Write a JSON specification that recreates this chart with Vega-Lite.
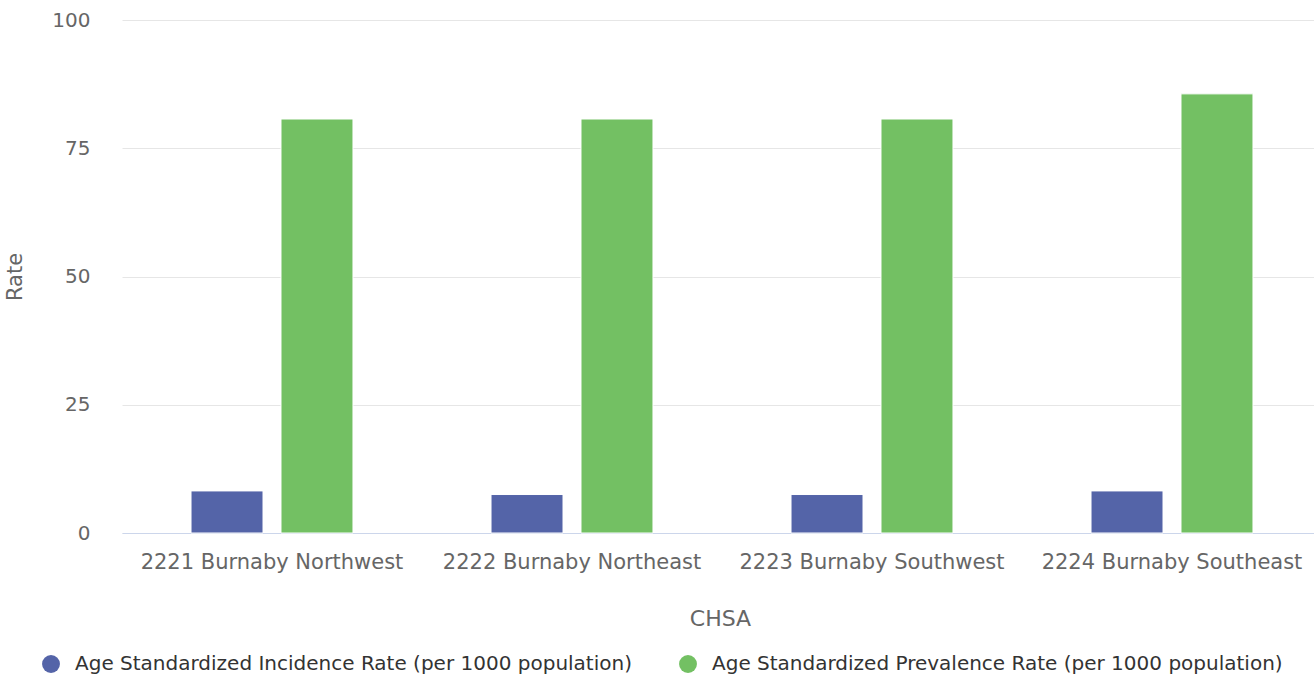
{
  "$schema": "https://vega.github.io/schema/vega-lite/v6.json",
  "width": 1192,
  "height": 513,
  "autosize": "none",
  "padding": {"left": 122, "top": 20, "right": 0, "bottom": 144},
  "background": "#ffffff",
  "config": {
    "font": "DejaVu Sans",
    "view": {"stroke": null}
  },
  "data": {
    "values": [
      {"chsa": "2221 Burnaby Northwest", "measure": "Age Standardized Incidence Rate (per 1000 population)", "rate": 8.2},
      {"chsa": "2221 Burnaby Northwest", "measure": "Age Standardized Prevalence Rate (per 1000 population)", "rate": 80.7},
      {"chsa": "2222 Burnaby Northeast", "measure": "Age Standardized Incidence Rate (per 1000 population)", "rate": 7.5},
      {"chsa": "2222 Burnaby Northeast", "measure": "Age Standardized Prevalence Rate (per 1000 population)", "rate": 80.7},
      {"chsa": "2223 Burnaby Southwest", "measure": "Age Standardized Incidence Rate (per 1000 population)", "rate": 7.5},
      {"chsa": "2223 Burnaby Southwest", "measure": "Age Standardized Prevalence Rate (per 1000 population)", "rate": 80.7},
      {"chsa": "2224 Burnaby Southeast", "measure": "Age Standardized Incidence Rate (per 1000 population)", "rate": 8.2},
      {"chsa": "2224 Burnaby Southeast", "measure": "Age Standardized Prevalence Rate (per 1000 population)", "rate": 85.6}
    ]
  },
  "mark": {"type": "bar", "stroke": "#ffffff", "strokeWidth": 1},
  "encoding": {
    "x": {
      "field": "chsa",
      "type": "nominal",
      "sort": null,
      "scale": {"paddingInner": 0, "paddingOuter": 0, "range": [0, 1200]},
      "axis": {
        "title": "CHSA",
        "titleFont": "DejaVu Sans",
        "titleFontSize": 22,
        "titleFontWeight": "normal",
        "titleColor": "#666666",
        "titlePadding": 36,
        "titleX": 598,
        "labelAngle": 0,
        "labelFontSize": 21,
        "labelColor": "#666666",
        "labelPadding": 18,
        "labelLimit": 400,
        "ticks": false,
        "domainColor": "#ccd6eb",
        "domainWidth": 1,
        "grid": false
      }
    },
    "xOffset": {
      "field": "measure",
      "type": "nominal",
      "scale": {"paddingInner": 0.2, "paddingOuter": 0.767}
    },
    "y": {
      "field": "rate",
      "type": "quantitative",
      "scale": {"domain": [0, 100], "nice": false},
      "axis": {
        "title": "Rate",
        "titleFontSize": 21,
        "titleFontWeight": "normal",
        "titleColor": "#666666",
        "titlePadding": 26,
        "values": [0, 25, 50, 75, 100],
        "labelFontSize": 20,
        "labelColor": "#666666",
        "labelPadding": 32,
        "ticks": false,
        "domain": false,
        "gridColor": "#e6e6e6",
        "gridWidth": 1
      }
    },
    "color": {
      "field": "measure",
      "type": "nominal",
      "scale": {
        "domain": ["Age Standardized Incidence Rate (per 1000 population)", "Age Standardized Prevalence Rate (per 1000 population)"],
        "range": ["#5464a8", "#73c063"]
      },
      "legend": {
        "title": null,
        "orient": "none",
        "direction": "horizontal",
        "legendX": -81,
        "legendY": 634,
        "symbolType": "circle",
        "symbolSize": 320,
        "symbolStrokeWidth": 0,
        "labelFontSize": 20,
        "labelColor": "#333333",
        "labelLimit": 700,
        "labelOffset": 14,
        "columnPadding": 46
      }
    }
  }
}
